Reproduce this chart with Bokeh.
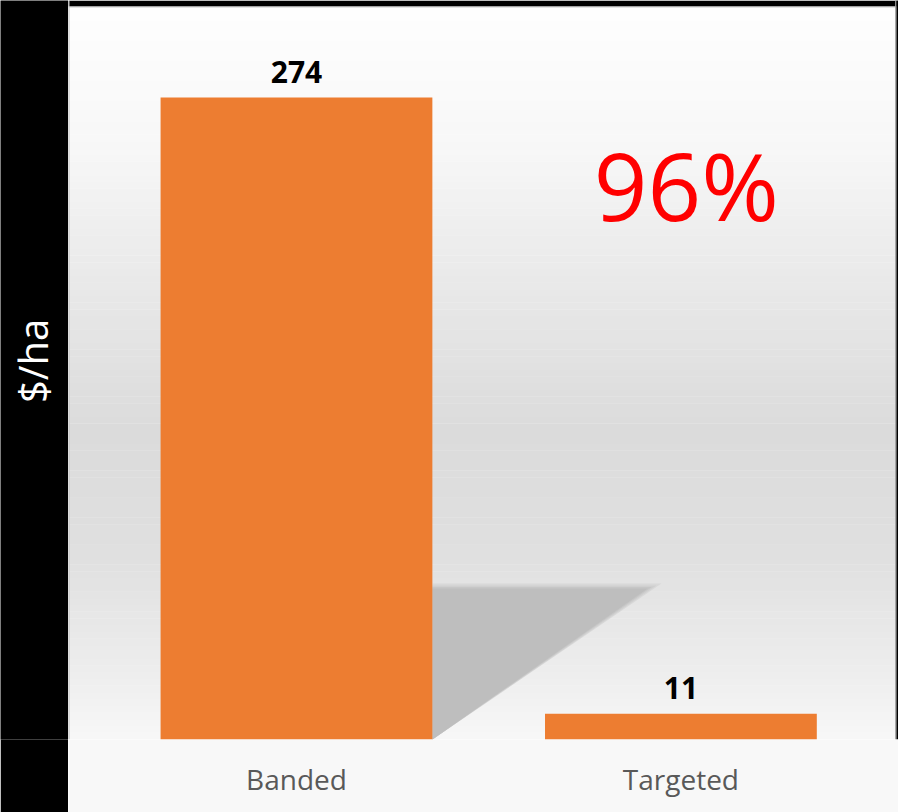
import numpy as np
from bokeh.plotting import figure
from bokeh.models import Range1d, FixedTicker, Span
from bokeh.layouts import row
from bokeh.core.properties import value
from bokeh.embed import file_html
from bokeh.resources import INLINE

# ---- data ----
categories = ["Banded", "Targeted"]
values = [274, 11]
value_labels = ["274", "11"]
y_label = "$/ha"
x_pos = [1, 2]
reduction = round((values[0] - values[1]) / values[0] * 100)
reduction_label = f"{reduction}%"

ORANGE = "#ED7D31"
FONT = value("Open Sans")
H = 812

# ---- left black strip with axis title ----
left = figure(width=68, height=H, output_backend="svg", toolbar_location=None,
              x_range=Range1d(0, 68), y_range=Range1d(0, H),
              x_axis_location=None, y_axis_location=None, min_border=0,
              background_fill_color="black", border_fill_color="black",
              outline_line_color=None)
left.grid.visible = False
left.text(x=[32], y=[416], text=[y_label], angle=np.pi / 2,
          text_align="center", text_baseline="middle", text_color="white",
          text_font=FONT, text_font_size="40px")

# ---- main chart ----
px_per_unit = 2.343
x0, x1 = 0.407, 2.566
y0, y1 = 0, 739 / px_per_unit
p = figure(width=830, height=H, output_backend="svg", toolbar_location=None,
           x_range=Range1d(x0, x1), y_range=Range1d(y0, y1),
           y_axis_location=None, min_border_left=0, min_border_right=0,
           min_border_top=0, min_border_bottom=73,
           border_fill_color="#f8f8f8", outline_line_color=None)
p.grid.visible = False

# vertical background gradient (decorative)
stop_px = np.array([7, 150, 250, 430, 560, 660, 739])
stop_gray = np.array([254, 247, 236, 219, 224, 236, 247])
stop_data = (739 - stop_px) / px_per_unit
n = 110
edges = np.linspace(y0, y1, n + 1)
centers = (edges[:-1] + edges[1:]) / 2
grays = np.interp(centers, stop_data[::-1], stop_gray[::-1]).round().astype(int)
colors = ["#%02x%02x%02x" % (g, g, g) for g in grays]
p.quad(left=x0, right=x1, bottom=edges[:-1], top=edges[1:] + 0.15,
       fill_color=colors, line_color=None)

# black top strip and frame edges (decorative)
p.quad(left=x0, right=x1, bottom=(739 - 6) / px_per_unit, top=y1,
       fill_color="black", line_color=None)
p.add_layout(Span(location=(739 - 6.5) / px_per_unit, dimension="width",
                  line_color="#c8c8c8", line_width=1))
p.add_layout(Span(location=x0, dimension="height", line_color="#c0c0c0", line_width=2))
p.add_layout(Span(location=x0 + (895.5 - 68) / 384.5, dimension="height",
                  line_color="#a0a0a0", line_width=1.5))
p.add_layout(Span(location=x1, dimension="height", line_color="black", line_width=4))

# shadow cast by the first bar (decorative)
bar_w = 0.707
sx = x_pos[0] + bar_w / 2
for grow, col in [(0.04, "#d8d8d8"), (0.025, "#cfcfcf"), (0.012, "#c6c6c6"), (0.0, "#bebebe")]:
    p.patch(x=[sx, sx + 0.56 + grow * 0.9, sx],
            y=[64.4 + grow * 55, 64.4 + grow * 55, 0],
            fill_color=col, line_color=None)

# bars
p.vbar(x=x_pos, top=values, width=bar_w, fill_color=ORANGE, line_color=None)

# value labels
p.text(x=x_pos, y=values, text=value_labels, y_offset=-26,
       text_align="center", text_baseline="alphabetic", text_color="black",
       text_font=FONT, text_font_style="bold", text_font_size="30px")

# reduction annotation
p.text(x=[2.014], y=[236.5], text=[reduction_label], text_align="center",
       text_baseline="alphabetic", text_color="#FF0000",
       text_font=FONT, text_font_size="94px")

# x axis
p.xaxis.ticker = FixedTicker(ticks=x_pos)
p.xaxis.major_label_overrides = {x: c for x, c in zip(x_pos, categories)}
p.xaxis.axis_line_color = None
p.xaxis.major_tick_line_color = None
p.xaxis.minor_tick_line_color = None
p.xaxis.major_label_standoff = 14
p.xaxis.major_label_text_font = "Open Sans"
p.xaxis.major_label_text_font_size = "28px"
p.xaxis.major_label_text_color = "#595959"

layout = row(left, p, spacing=0)
open("out.html", "w").write(file_html(layout, INLINE))
